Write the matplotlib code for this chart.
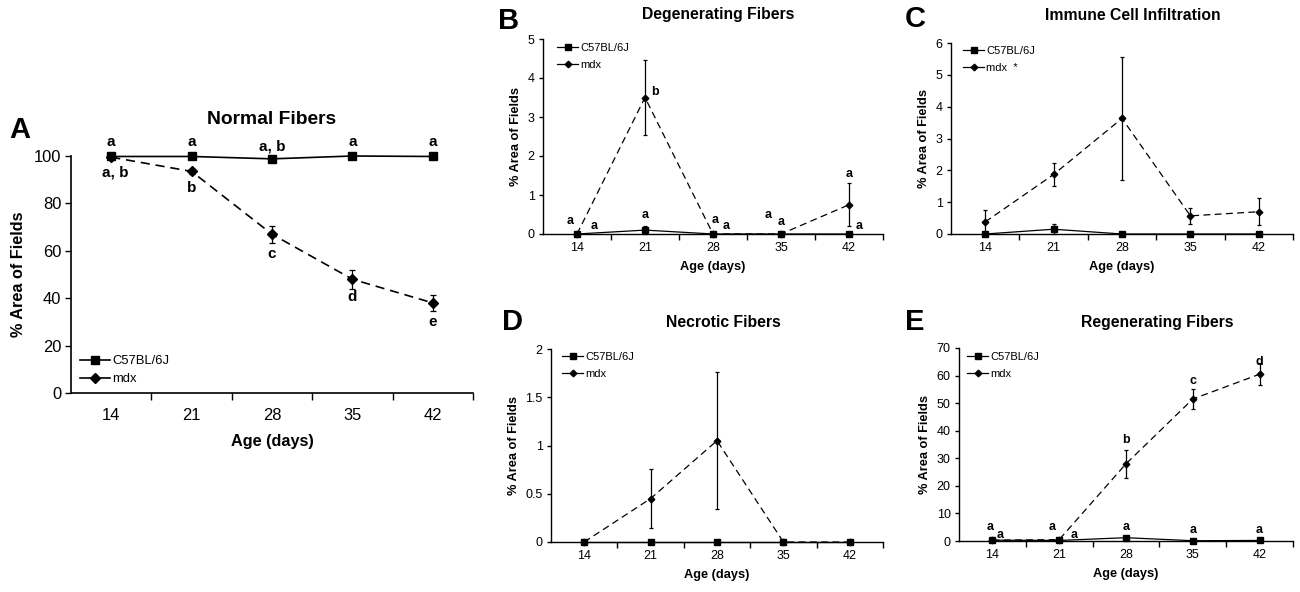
import numpy as np
import matplotlib
matplotlib.use("Agg")
from matplotlib import pyplot as plt
from matplotlib.lines import Line2D

plt.rcParams['font.family'] = ['Liberation Sans', 'DejaVu Sans']

ages = ['14', '21', '28', '35', '42']

# A - normal fibers
a_c57 = [99.8, 99.8, 98.8, 100.0, 99.8]
a_c57_err = [0.3, 0.3, 0.5, 0.2, 0.3]
a_mdx = [99.5, 93.5, 67.0, 48.0, 38.0]
a_mdx_err = [0.5, 1.0, 3.5, 4.0, 3.5]
a_labels = [('a', 0, 105.9), ('a, b', 0.05, 93.2), ('a', 1, 105.9), ('b', 1, 86.5),
            ('a, b', 2, 104.2), ('c', 2, 58.6), ('a', 3, 105.9), ('d', 3, 40.5),
            ('a', 4, 105.9), ('e', 4, 30.0)]

# B - degenerating fibers
b_c57 = [0.0, 0.1, 0.0, 0.0, 0.0]
b_c57_err = [0.0, 0.1, 0.0, 0.0, 0.0]
b_mdx = [0.0, 3.5, 0.0, 0.0, 0.75]
b_mdx_err = [0.0, 0.97, 0.0, 0.0, 0.55]
b_labels = [('a', -0.1, 0.33), ('a', 0.25, 0.2), ('a', 1.0, 0.49), ('b', 1.15, 3.65),
            ('a', 2.03, 0.36), ('a', 2.19, 0.2), ('a', 2.81, 0.49), ('a', 3.0, 0.3),
            ('a', 4.0, 1.54), ('a', 4.15, 0.2)]

# C - immune cell infiltration
c_c57 = [0.0, 0.15, 0.0, 0.0, 0.0]
c_c57_err = [0.0, 0.15, 0.0, 0.0, 0.0]
c_mdx = [0.38, 1.87, 3.63, 0.57, 0.7]
c_mdx_err = [0.37, 0.35, 1.92, 0.25, 0.42]

# D - necrotic fibers
d_c57 = [0.0, 0.0, 0.0, 0.0, 0.0]
d_c57_err = [0.0, 0.0, 0.0, 0.0, 0.0]
d_mdx = [0.0, 0.45, 1.05, 0.0, 0.0]
d_mdx_err = [0.0, 0.31, 0.71, 0.0, 0.0]

# E - regenerating fibers
e_c57 = [0.3, 0.2, 1.2, 0.1, 0.2]
e_c57_err = [0.2, 0.2, 0.4, 0.1, 0.1]
e_mdx = [0.3, 0.5, 28.0, 51.5, 60.5]
e_mdx_err = [0.2, 0.3, 5.0, 3.5, 4.0]
e_labels = [('a', -0.03, 5.1), ('a', 0.12, 2.2), ('a', 0.9, 5.1), ('a', 1.22, 2.2),
            ('b', 2.0, 36.6), ('a', 2.0, 5.0), ('c', 3.0, 58.0), ('a', 3.0, 4.0),
            ('d', 4.0, 65.0), ('a', 4.0, 4.0)]

W, H = 1300, 592
fig = plt.figure(figsize=(13, 5.92), dpi=100)


def px_axes(left, right, top, bottom):
    return fig.add_axes([left / W, 1 - bottom / H, (right - left) / W, (bottom - top) / H])


def panel(ax, c57, c57_err, mdx, mdx_err, ymax, ystep, big, mdx_name='mdx',
          legend_xy=None, labels=None):
    x = np.arange(len(ages))
    lw = 1.2 if big else 0.9
    ms = 6 if big else 4.2
    ax.errorbar(x, c57, yerr=c57_err, color='black', lw=lw, marker='s', ms=ms,
                elinewidth=0.9, capsize=2 if big else 1.5, capthick=0.9, zorder=3)
    ax.errorbar(x, mdx, yerr=mdx_err, color='black', lw=lw, ls=(0, (5.5, 3.5)), marker='D',
                ms=ms * 0.8, elinewidth=0.9, capsize=2 if big else 1.5, capthick=0.9, zorder=2)
    ax.set_xlim(-0.5, 4.5)
    ax.set_ylim(0, ymax)
    ax.set_xticks(x)
    ax.set_xticklabels(ages)
    ax.set_xticks(np.arange(0.5, 5, 1), minor=True)
    yt = np.arange(0, ymax + ystep / 2, ystep)
    ax.set_yticks(yt)
    ax.set_yticklabels(['{:g}'.format(v) for v in yt])
    fs_tick = 11.9 if big else 9.0
    fs_lab = 11.7 if big else 9.2
    ax.tick_params(axis='x', which='major', length=0, pad=11 if big else 6, labelsize=fs_tick)
    ax.tick_params(axis='x', which='minor', length=5 if big else 4, width=1, direction='out')
    ax.tick_params(axis='y', length=4 if big else 3, width=1, direction='out', labelsize=fs_tick,
                   pad=3)
    for s in ['top', 'right']:
        ax.spines[s].set_visible(False)
    for s in ['left', 'bottom']:
        ax.spines[s].set_linewidth(1.2 if big else 1.0)
    ax.set_xlabel('Age (days)', fontweight='bold', fontsize=fs_lab, labelpad=8 if big else 5)
    ax.set_ylabel('% Area of Fields', fontweight='bold', fontsize=fs_lab, labelpad=6 if big else 4)
    ax.patch.set_alpha(0)
    for child in ax.get_children():
        try:
            child.set_clip_on(False)
        except Exception:
            pass

    handles = [Line2D([], [], color='black', lw=lw, marker='s', ms=ms),
               Line2D([], [], color='black', lw=lw, marker='D', ms=ms * 0.8)]
    lx, ly = legend_xy
    ax.legend(handles, ['C57BL/6J', mdx_name], loc='upper left',
              bbox_to_anchor=(lx / W, 1 - ly / H), bbox_transform=fig.transFigure,
              frameon=False, fontsize=9.4 if big else 8.0, handlelength=2.3 if big else 1.9,
              handletextpad=0.2, labelspacing=0.45 if big else 0.6, borderpad=0,
              borderaxespad=0)
    if labels:
        for t, lx_, ly_ in labels:
            ax.text(lx_, ly_, t, ha='center', va='center', fontweight='bold',
                    fontsize=11 if big else 9, clip_on=False)


axA = px_axes(71, 473, 156, 393)
panel(axA, a_c57, a_c57_err, a_mdx, a_mdx_err, 100, 20, True, legend_xy=(80, 355),
      labels=a_labels)
axB = px_axes(543, 883, 39, 234)
panel(axB, b_c57, b_c57_err, b_mdx, b_mdx_err, 5, 1, False, legend_xy=(557, 43),
      labels=b_labels)
axC = px_axes(951, 1293, 43, 234)
panel(axC, c_c57, c_c57_err, c_mdx, c_mdx_err, 6, 1, False, mdx_name='mdx  *',
      legend_xy=(963, 46))
axD = px_axes(551, 883, 349, 542)
panel(axD, d_c57, d_c57_err, d_mdx, d_mdx_err, 2, 0.5, False, legend_xy=(562, 352))
axE = px_axes(959, 1293, 348, 541)
panel(axE, e_c57, e_c57_err, e_mdx, e_mdx_err, 70, 10, False, legend_xy=(967, 352),
      labels=e_labels)

# titles and panel letters
titles = [('Normal Fibers', 272, 120, 13.9), ('Degenerating Fibers', 718, 15, 11.3),
          ('Immune Cell Infiltration', 1133, 15, 11.3), ('Necrotic Fibers', 723, 322, 11.3),
          ('Regenerating Fibers', 1157, 322, 11.3)]
for t, x, y, fs in titles:
    fig.text(x / W, 1 - y / H, t, ha='center', va='center', fontweight='bold', fontsize=fs)

letters = [('A', 20, 130), ('B', 509, 21), ('C', 915, 19), ('D', 513, 322), ('E', 915, 322)]
for t, x, y in letters:
    fig.text(x / W, 1 - y / H, t, ha='center', va='center', fontweight='bold', fontsize=21)

fig.savefig('out.png', dpi=100)
